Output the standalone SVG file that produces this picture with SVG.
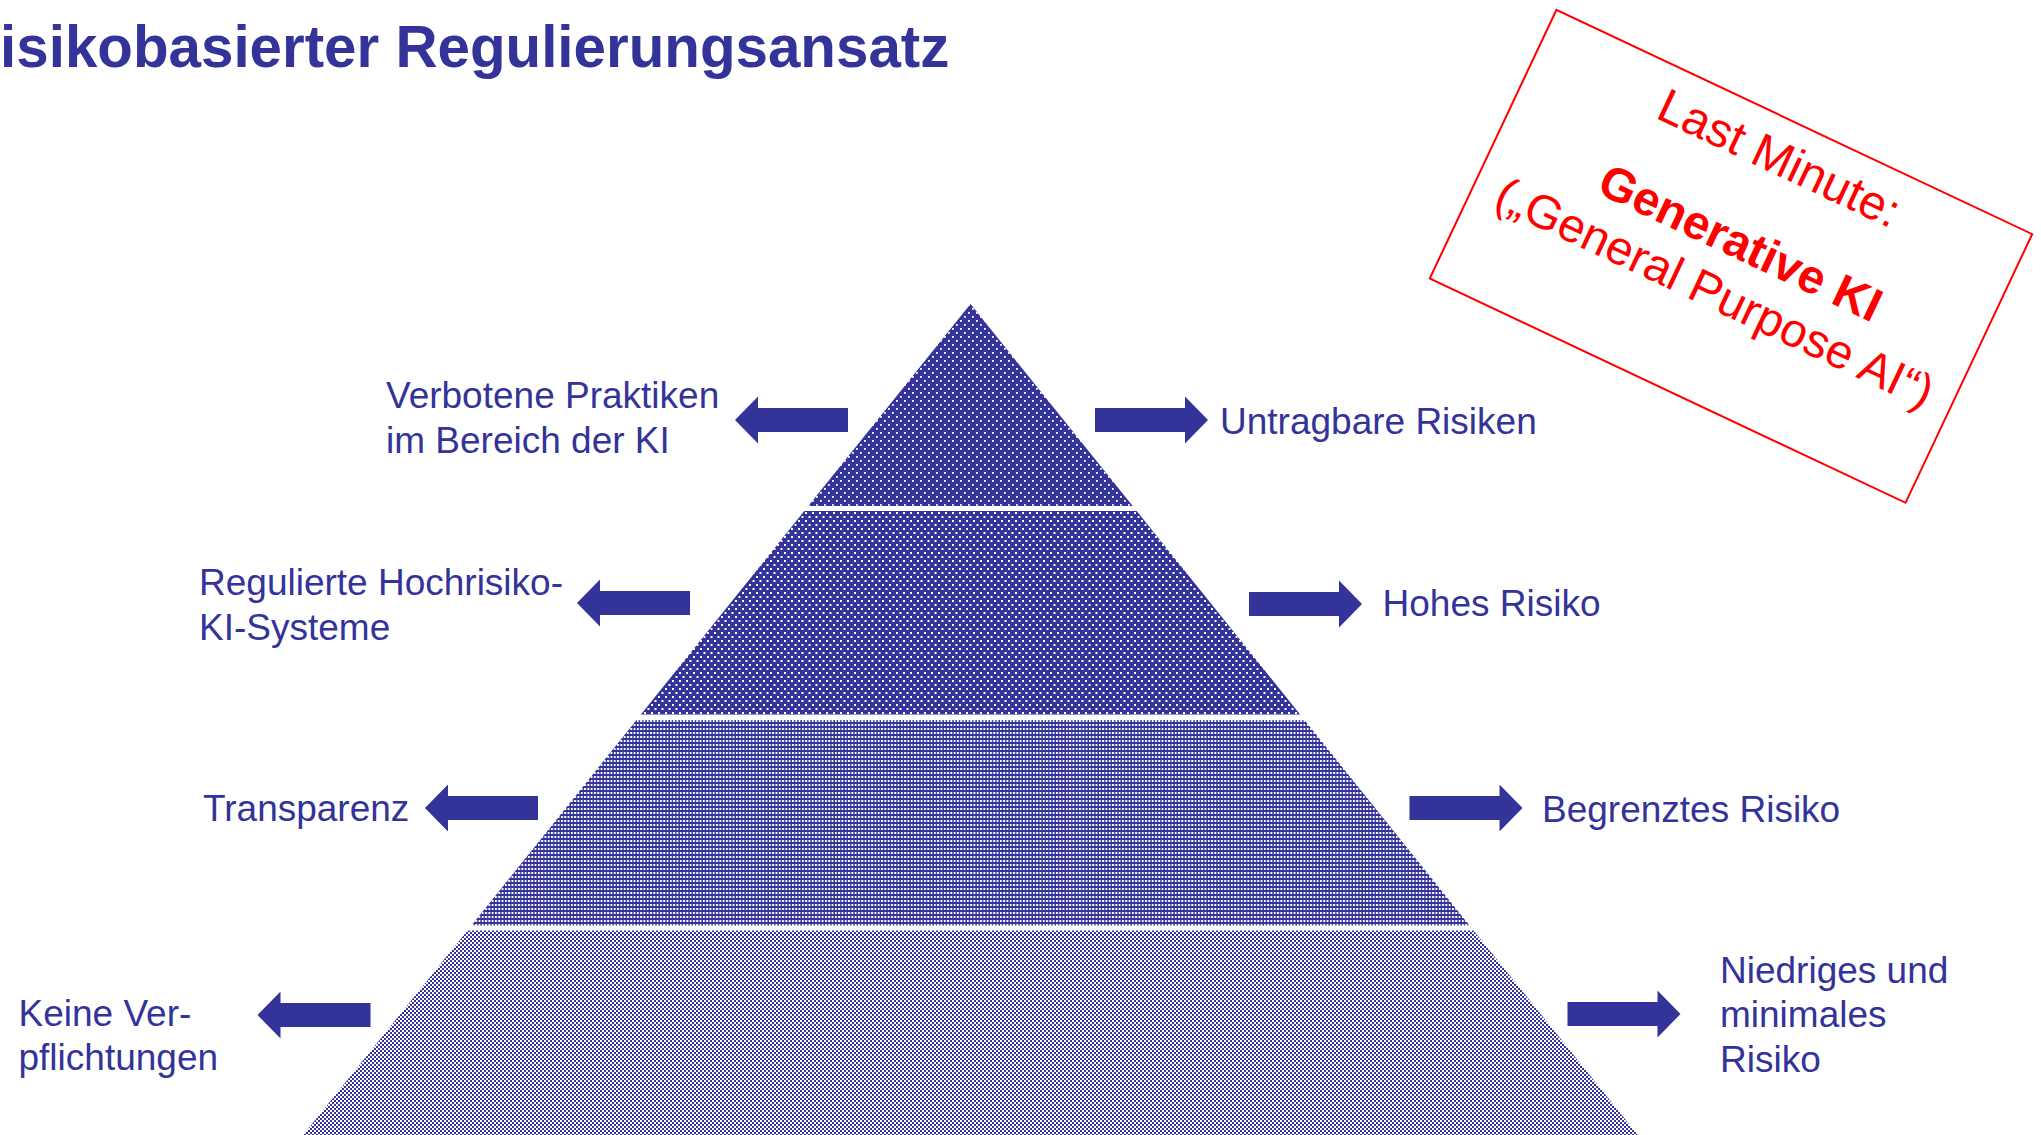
<svg xmlns="http://www.w3.org/2000/svg" xmlns:xlink="http://www.w3.org/1999/xlink" width="2041" height="1135" viewBox="0 0 2041 1135">
<style>
.title{font-family:"Liberation Sans",Arial,sans-serif;font-weight:bold;font-size:58.3px;fill:#333399}
.lbl{font-family:"Liberation Sans",Arial,sans-serif;font-size:37px;fill:#333399}
.red{font-family:"Liberation Sans",Arial,sans-serif;fill:#FF0000;text-anchor:middle}
.arrow{fill:#333399}
</style>
<defs>
<pattern id="p1" patternUnits="userSpaceOnUse" width="8" height="8">
<rect width="8" height="8" fill="#333399"/>
<rect x="0" y="0" width="1.8" height="1.8" fill="#fff"/>
<rect x="4" y="4" width="1.8" height="1.8" fill="#fff"/>
</pattern>
<pattern id="p2" patternUnits="userSpaceOnUse" width="7" height="8">
<rect width="7" height="8" fill="#333399"/>
<rect x="0" y="0" width="2" height="2" fill="#fff"/>
<rect x="3.5" y="4" width="2" height="2" fill="#fff"/>
</pattern>
<pattern id="p3" patternUnits="userSpaceOnUse" width="3.3" height="4">
<rect width="3.3" height="4" fill="#333399"/>
<rect x="0" y="0" width="1.9" height="2" fill="#fff"/>
</pattern>
<pattern id="p4" patternUnits="userSpaceOnUse" width="4" height="4">
<rect width="4" height="4" fill="#333399"/>
<rect x="0" y="0" width="2" height="2" fill="#fff"/>
<rect x="2" y="2" width="2" height="2" fill="#fff"/>
</pattern>
<path id="arR" d="M0,-12 L90,-12 L90,-23.5 L113,0 L90,23.5 L90,12 L0,12 Z"/>
<path id="arL" d="M0,-12 L-90,-12 L-90,-23.5 L-113,0 L-90,23.5 L-90,12 L0,12 Z"/>
</defs>
<rect width="2041" height="1135" fill="#fff"/>

<g id="title">
<text class="title" x="-42" y="67">Risikobasierter Regulierungsansatz</text>
</g>

<g id="tier1"><polygon points="970.5,304 1132.7,506 808.3,506" fill="url(#p1)"/></g>
<g id="tier2"><polygon points="804.3,511 1136.7,511 1300.1,714.5 640.9,714.5" fill="url(#p2)"/></g>
<g id="tier3"><polygon points="636.5,720 1304.5,720 1469.5,925.5 471.5,925.5" fill="url(#p3)"/></g>
<g id="tier4"><polygon points="467.5,930.5 1473.5,930.5 1637.8,1135 303.2,1135" fill="url(#p4)"/></g>

<g id="connectors" class="arrow">
<use xlink:href="#arL" x="848" y="420"/>
<use xlink:href="#arL" x="690" y="603"/>
<use xlink:href="#arL" x="538" y="808"/>
<use xlink:href="#arL" x="370.5" y="1015"/>
<use xlink:href="#arR" x="1095" y="420"/>
<use xlink:href="#arR" x="1249" y="604"/>
<use xlink:href="#arR" x="1409.5" y="808"/>
<use xlink:href="#arR" x="1567.5" y="1014"/>
</g>

<g id="label-verbotene"><text class="lbl" x="386" y="408">Verbotene Praktiken</text><text class="lbl" x="386" y="452.5">im Bereich der KI</text></g>
<g id="label-untragbar"><text class="lbl" x="1220" y="433.5">Untragbare Risiken</text></g>
<g id="label-reguliert"><text class="lbl" x="199" y="595">Regulierte Hochrisiko-</text><text class="lbl" x="199" y="639.5">KI-Systeme</text></g>
<g id="label-hohes"><text class="lbl" x="1382.5" y="616">Hohes Risiko</text></g>
<g id="label-transparenz"><text class="lbl" x="203" y="821">Transparenz</text></g>
<g id="label-begrenzt"><text class="lbl" x="1542" y="822">Begrenztes Risiko</text></g>
<g id="label-keine"><text class="lbl" x="18.5" y="1025.5">Keine Ver-</text><text class="lbl" x="18.5" y="1070">pflichtungen</text></g>
<g id="label-niedrig"><text class="lbl" x="1720" y="982.5">Niedriges und</text><text class="lbl" x="1720" y="1027">minimales</text><text class="lbl" x="1720" y="1071.5">Risiko</text></g>

<g id="note" transform="translate(1731,256.3) rotate(25.24)">
<rect x="-263" y="-148.5" width="526" height="297" fill="none" stroke="#FF0000" stroke-width="2"/>
<text class="red" x="2" y="-93" font-size="48">Last Minute:</text>
<text class="red" x="3" y="0" font-size="47.5" font-weight="bold">Generative KI</text>
<text class="red" x="1" y="56" font-size="47.5">(„General Purpose AI“)</text>
</g>
</svg>
